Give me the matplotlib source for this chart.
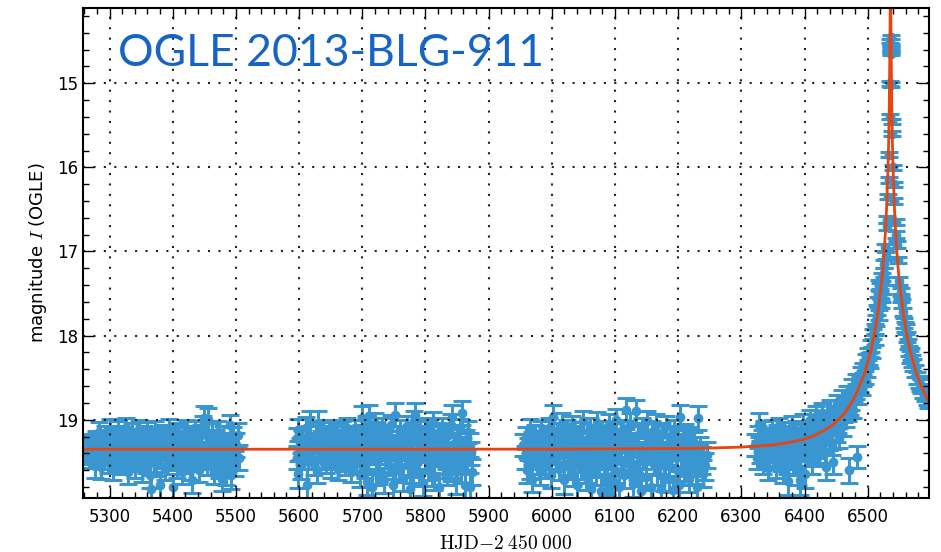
#!/usr/bin/env python3
"""OGLE 2013-BLG-911 light curve with the point-lens model."""

import matplotlib
matplotlib.use("Agg")
import matplotlib.pyplot as plt
from matplotlib.ticker import MultipleLocator

OUT = "out.png"

DATA_BLUE = "#3a96d0"
MODEL_RED = "#e8440f"
TITLE_BLUE = "#1664c4"

# (HJD-2450000, I mag, error), one list per season
season_2010 = [
    (5259, 19.33, .10), (5260, 19.40, .11), (5262, 19.30, .10), (5264, 19.42, .11),
    (5266, 19.36, .11), (5268, 19.45, .12), (5270, 19.28, .11), (5272, 19.38, .12),
    (5274, 19.33, .12), (5277, 19.55, .14), (5279, 19.25, .12), (5281, 19.40, .12),
    (5283, 19.15, .12), (5285, 19.36, .12), (5287, 19.56, .14), (5289, 19.27, .12),
    (5291, 19.45, .13), (5293, 19.20, .12), (5295, 19.34, .12), (5297, 19.50, .13),
    (5299, 19.24, .12), (5300, 19.12, .13), (5302, 19.40, .12), (5304, 19.30, .12),
    (5306, 19.58, .14), (5308, 19.19, .12), (5310, 19.36, .12), (5312, 19.46, .13),
    (5314, 19.14, .12), (5316, 19.28, .12), (5318, 19.52, .13), (5320, 19.33, .12),
    (5322, 19.21, .12), (5324, 19.42, .13), (5326, 19.10, .12), (5328, 19.37, .12),
    (5330, 19.62, .14), (5332, 19.26, .12), (5334, 19.44, .13), (5336, 19.16, .12),
    (5338, 19.31, .12), (5340, 19.55, .14), (5342, 19.23, .12), (5344, 19.39, .12),
    (5346, 19.12, .12), (5348, 19.48, .13), (5350, 19.29, .12), (5352, 19.60, .14),
    (5354, 19.20, .12), (5356, 19.35, .12), (5358, 19.50, .13), (5360, 19.15, .12),
    (5362, 19.41, .13), (5364, 19.66, .15), (5366, 19.82, .16), (5368, 19.27, .12),
    (5370, 19.38, .12), (5372, 19.13, .12), (5374, 19.53, .14), (5376, 19.30, .12),
    (5378, 19.22, .12), (5380, 19.78, .16), (5382, 19.44, .13), (5384, 19.18, .12),
    (5386, 19.34, .12), (5388, 19.58, .14), (5390, 19.25, .12), (5392, 19.40, .12),
    (5394, 19.11, .12), (5396, 19.47, .13), (5398, 19.32, .12), (5400, 19.80, .16),
    (5402, 19.21, .12), (5404, 19.37, .12), (5406, 19.55, .14), (5408, 19.16, .12),
    (5410, 19.43, .13), (5412, 19.28, .12), (5414, 19.62, .14), (5416, 19.19, .12),
    (5418, 19.35, .12), (5420, 19.50, .13), (5422, 19.12, .12), (5424, 19.40, .13),
    (5426, 19.26, .12), (5428, 19.58, .14), (5430, 19.72, .15), (5432, 19.22, .12),
    (5434, 19.36, .12), (5436, 19.14, .12), (5438, 19.46, .13), (5440, 19.30, .12),
    (5442, 19.60, .14), (5444, 19.18, .12), (5446, 19.42, .13), (5448, 19.08, .12),
    (5450, 18.98, .14), (5452, 19.33, .12), (5454, 19.52, .14), (5456, 19.00, .14),
    (5458, 19.27, .12), (5460, 19.45, .13), (5462, 19.16, .12), (5464, 19.38, .12),
    (5466, 19.62, .14), (5468, 19.24, .12), (5470, 19.44, .13), (5472, 19.14, .12),
    (5474, 19.55, .14), (5476, 19.30, .12), (5478, 19.70, .15), (5480, 19.20, .12),
    (5482, 19.40, .13), (5484, 19.62, .15), (5486, 19.28, .12), (5488, 19.48, .14),
    (5490, 19.06, .12), (5492, 19.66, .16), (5494, 19.35, .13), (5496, 19.22, .13),
    (5498, 19.52, .15), (5500, 19.30, .14), (5503, 19.18, .14), (5505, 19.45, .15),
    (5301, 19.28, .13), (5311, 19.48, .13), (5321, 19.25, .13), (5331, 19.40, .13),
    (5341, 19.30, .13), (5351, 19.44, .13), (5361, 19.22, .13), (5371, 19.50, .14),
    (5381, 19.30, .13), (5391, 19.20, .13), (5401, 19.45, .13), (5411, 19.34, .13),
    (5421, 19.26, .13), (5431, 19.48, .13), (5441, 19.20, .13), (5451, 19.40, .13),
    (5461, 19.30, .13), (5471, 19.36, .13), (5481, 19.52, .14), (5491, 19.30, .14),
]

season_2011 = [
    (5596, 19.22, .12), (5597, 19.45, .14), (5598, 19.65, .16), (5599, 19.12, .13),
    (5601, 19.35, .13), (5603, 19.55, .15), (5605, 19.25, .13), (5607, 19.40, .13),
    (5609, 19.30, .12), (5611, 19.10, .13), (5612, 19.77, .18), (5614, 19.45, .13),
    (5616, 19.20, .12), (5618, 19.04, .14), (5620, 19.38, .12), (5622, 19.28, .12),
    (5624, 19.52, .14), (5626, 19.18, .12), (5628, 19.60, .15), (5630, 19.04, .14),
    (5632, 19.35, .12), (5634, 19.25, .12), (5636, 19.45, .13), (5638, 19.15, .12),
    (5640, 19.32, .12), (5642, 19.50, .13), (5644, 19.22, .12), (5646, 19.40, .12),
    (5648, 19.12, .12), (5650, 19.55, .14), (5652, 19.30, .12), (5654, 19.20, .12),
    (5656, 19.45, .13), (5658, 19.35, .12), (5660, 19.16, .12), (5662, 19.58, .14),
    (5664, 19.27, .12), (5666, 19.42, .13), (5668, 19.14, .12), (5670, 19.36, .12),
    (5672, 19.52, .14), (5674, 19.24, .12), (5676, 19.10, .12), (5678, 19.46, .13),
    (5680, 19.32, .12), (5682, 19.60, .14), (5684, 19.20, .12), (5686, 19.38, .12),
    (5688, 19.12, .12), (5690, 19.50, .13), (5692, 19.28, .12), (5694, 19.42, .13),
    (5696, 19.65, .15), (5698, 19.18, .12), (5700, 18.98, .14), (5702, 19.34, .12),
    (5704, 19.55, .14), (5706, 19.08, .12), (5708, 19.74, .16), (5710, 18.96, .14),
    (5712, 19.40, .13), (5714, 19.22, .12), (5716, 19.80, .16), (5718, 19.30, .12),
    (5720, 19.05, .13), (5722, 19.48, .13), (5724, 19.15, .12), (5726, 19.62, .14),
    (5728, 19.26, .12), (5730, 19.40, .12), (5732, 19.10, .12), (5734, 19.72, .15),
    (5736, 19.33, .12), (5738, 19.18, .12), (5740, 19.52, .14), (5742, 19.25, .12),
    (5744, 19.44, .13), (5746, 19.06, .12), (5748, 19.78, .16), (5750, 19.30, .12),
    (5752, 18.94, .14), (5754, 19.46, .13), (5756, 19.20, .12), (5758, 19.60, .14),
    (5760, 19.12, .12), (5762, 19.36, .12), (5764, 19.70, .15), (5766, 19.24, .12),
    (5768, 19.42, .13), (5770, 19.08, .12), (5772, 19.54, .14), (5774, 19.30, .12),
    (5776, 19.82, .16), (5778, 19.18, .12), (5780, 19.40, .13), (5782, 19.02, .13),
    (5784, 18.94, .14), (5786, 19.48, .13), (5788, 19.26, .12), (5790, 19.64, .15),
    (5792, 19.14, .12), (5794, 19.38, .12), (5796, 19.75, .16), (5798, 19.22, .12),
    (5800, 19.45, .13), (5802, 19.10, .12), (5804, 19.58, .14), (5806, 19.32, .12),
    (5808, 19.20, .12), (5810, 19.50, .13), (5812, 19.04, .13), (5814, 19.68, .15),
    (5816, 19.28, .12), (5818, 19.42, .13), (5820, 19.16, .12), (5822, 19.80, .16),
    (5824, 19.34, .12), (5826, 19.10, .12), (5828, 19.55, .14), (5830, 19.24, .12),
    (5832, 19.46, .13), (5834, 19.62, .15), (5836, 19.18, .12), (5838, 19.38, .12),
    (5840, 19.06, .13), (5842, 18.97, .14), (5844, 19.50, .14), (5846, 19.28, .12),
    (5848, 19.72, .16), (5850, 19.20, .12), (5852, 19.42, .13), (5854, 19.12, .13),
    (5856, 19.60, .15), (5858, 18.92, .14), (5860, 19.35, .13), (5862, 19.78, .17),
    (5864, 19.25, .13), (5866, 19.50, .14), (5868, 19.15, .13), (5870, 19.80, .17),
    (5872, 19.40, .14), (5874, 19.62, .15),
    (5641, 19.30, .13), (5651, 19.42, .13), (5661, 19.26, .13), (5671, 19.48, .13),
    (5681, 19.22, .13), (5691, 19.36, .13), (5701, 19.50, .14), (5711, 19.28, .13),
    (5721, 19.62, .15), (5731, 19.34, .13), (5741, 19.20, .13), (5751, 19.56, .14),
    (5761, 19.40, .13), (5771, 19.26, .13), (5781, 19.60, .15), (5791, 19.32, .13),
    (5801, 19.22, .13), (5811, 19.64, .15), (5821, 19.38, .13), (5831, 19.28, .13),
    (5841, 19.58, .15), (5851, 19.34, .13), (5861, 19.48, .14), (5871, 19.30, .14),
]

season_2012 = [
    (5955, 19.30, .13), (5957, 19.45, .14), (5959, 19.22, .13), (5961, 19.60, .15),
    (5963, 19.35, .13), (5965, 19.12, .13), (5966, 19.55, .15), (5968, 19.70, .16),
    (5969, 19.28, .13), (5971, 19.42, .13), (5973, 19.18, .12), (5975, 19.36, .12),
    (5977, 19.50, .14), (5979, 19.25, .12), (5981, 19.62, .15), (5983, 19.14, .12),
    (5985, 19.40, .13), (5987, 19.30, .12), (5989, 19.55, .14), (5991, 19.20, .12),
    (5993, 19.45, .13), (5995, 19.10, .12), (5997, 19.34, .12), (5999, 19.66, .15),
    (6002, 18.97, .14), (6004, 19.28, .12), (6006, 19.48, .13), (6008, 19.16, .12),
    (6010, 19.38, .12), (6012, 19.58, .14), (6014, 19.22, .12), (6016, 19.05, .13),
    (6018, 19.42, .13), (6020, 19.72, .16), (6022, 19.30, .12), (6024, 19.12, .12),
    (6026, 19.52, .14), (6028, 19.26, .12), (6030, 19.44, .13), (6032, 19.08, .12),
    (6034, 19.64, .15), (6036, 19.34, .12), (6038, 19.20, .12), (6040, 19.78, .16),
    (6042, 19.40, .13), (6044, 19.15, .12), (6046, 19.56, .14), (6048, 19.28, .12),
    (6050, 19.02, .13), (6052, 19.46, .13), (6054, 19.68, .15), (6056, 19.24, .12),
    (6058, 19.38, .12), (6060, 19.10, .12), (6062, 19.82, .17), (6064, 19.32, .12),
    (6066, 19.50, .14), (6068, 19.18, .12), (6070, 19.62, .15), (6072, 19.04, .13),
    (6074, 19.42, .13), (6076, 19.28, .12), (6078, 19.85, .17), (6080, 19.14, .12),
    (6082, 19.54, .14), (6084, 19.36, .12), (6086, 19.22, .12), (6088, 19.74, .16),
    (6090, 19.06, .13), (6092, 19.44, .13), (6094, 19.88, .17), (6096, 19.30, .12),
    (6098, 19.16, .12), (6100, 19.60, .15), (6102, 19.00, .13), (6104, 19.40, .13),
    (6106, 19.80, .17), (6108, 19.26, .12), (6110, 19.48, .13), (6112, 19.12, .12),
    (6114, 19.66, .15), (6116, 19.34, .12), (6118, 18.88, .14), (6120, 19.20, .12),
    (6122, 19.52, .14), (6124, 19.05, .13), (6126, 19.42, .13), (6128, 19.76, .16),
    (6130, 19.28, .12), (6133, 18.90, .14), (6135, 19.58, .14), (6137, 19.18, .12),
    (6139, 19.38, .12), (6141, 19.85, .17), (6143, 19.10, .12), (6145, 19.46, .13),
    (6147, 19.30, .12), (6149, 19.68, .15), (6151, 19.02, .13), (6153, 19.40, .13),
    (6155, 19.24, .12), (6157, 19.80, .16), (6159, 19.14, .12), (6161, 19.52, .14),
    (6163, 19.34, .12), (6165, 19.06, .13), (6167, 19.62, .15), (6169, 19.26, .12),
    (6171, 19.44, .13), (6173, 19.82, .17), (6175, 19.16, .12), (6177, 19.38, .12),
    (6179, 19.55, .14), (6181, 19.08, .13), (6183, 19.30, .12), (6185, 19.70, .16),
    (6187, 19.20, .12), (6189, 19.46, .13), (6191, 19.84, .17), (6193, 19.12, .12),
    (6195, 19.36, .12), (6197, 19.58, .15), (6199, 19.24, .13), (6201, 19.78, .17),
    (6203, 18.97, .14), (6205, 19.42, .14), (6207, 19.30, .13), (6209, 19.62, .15),
    (6211, 19.18, .13), (6213, 19.48, .14), (6215, 19.35, .13), (6217, 19.70, .16),
    (6219, 19.22, .13), (6221, 19.52, .15), (6223, 19.40, .14), (6225, 19.28, .14),
    (6228, 19.60, .16), (6230, 19.80, .18), (6231, 18.98, .14), (6233, 19.45, .15),
    (6235, 19.35, .15), (6237, 19.48, .16), (6240, 19.64, .16), (6242, 19.55, .16),
    (6245, 19.42, .15),
    (5976, 19.30, .13), (5986, 19.46, .13), (5996, 19.24, .13), (6007, 19.40, .13),
    (6017, 19.30, .13), (6027, 19.56, .14), (6037, 19.22, .13), (6047, 19.42, .13),
    (6057, 19.60, .15), (6067, 19.32, .13), (6077, 19.20, .13), (6087, 19.50, .14),
    (6097, 19.66, .15), (6107, 19.36, .13), (6117, 19.24, .13), (6127, 19.54, .14),
    (6138, 19.64, .15), (6148, 19.40, .13), (6158, 19.28, .13), (6168, 19.50, .14),
    (6178, 19.70, .15), (6188, 19.34, .13), (6198, 19.42, .14), (6208, 19.26, .14),
]

season_2013 = [
    (6322, 19.30, .13), (6324, 19.45, .14), (6326, 19.20, .13), (6328, 19.06, .14),
    (6330, 19.38, .13), (6332, 19.25, .13), (6334, 19.50, .14), (6336, 19.15, .13),
    (6338, 19.32, .13), (6340, 19.42, .13), (6342, 19.57, .15), (6344, 19.22, .12),
    (6346, 19.36, .13), (6348, 19.12, .12), (6350, 19.46, .13), (6352, 19.28, .12),
    (6354, 19.55, .14), (6356, 19.18, .12), (6358, 19.38, .12), (6360, 19.10, .12),
    (6362, 19.48, .13), (6364, 19.25, .12), (6366, 19.60, .15), (6368, 19.15, .12),
    (6370, 19.35, .12), (6372, 19.50, .14), (6374, 19.73, .16), (6376, 19.20, .12),
    (6378, 19.40, .13), (6380, 19.08, .12), (6382, 19.52, .14), (6384, 19.28, .12),
    (6386, 19.14, .12), (6388, 19.45, .13), (6390, 19.62, .15), (6392, 19.72, .17),
    (6394, 19.22, .12), (6396, 19.36, .12), (6398, 19.05, .12), (6400, 19.65, .16),
    (6402, 19.30, .12), (6404, 19.16, .12), (6406, 19.42, .13), (6408, 19.00, .12),
    (6410, 19.26, .12), (6412, 19.50, .14), (6414, 19.12, .12), (6416, 19.34, .12),
    (6418, 18.96, .12), (6420, 19.22, .12), (6422, 19.42, .13), (6424, 19.08, .12),
    (6426, 19.30, .12), (6428, 18.92, .12), (6430, 19.18, .12), (6432, 19.38, .13),
    (6434, 19.56, .15), (6436, 19.05, .12), (6438, 19.24, .12), (6440, 18.88, .12),
    (6442, 19.12, .12), (6444, 19.30, .12), (6445, 19.50, .15), (6447, 18.95, .11),
    (6449, 19.15, .12), (6451, 18.82, .11), (6453, 19.05, .11), (6455, 19.22, .12),
    (6457, 18.90, .11), (6459, 18.76, .11), (6461, 19.08, .11), (6463, 18.85, .10),
    (6465, 18.98, .11), (6467, 18.70, .10), (6469, 18.92, .10), (6471, 19.60, .15),
    (6473, 18.78, .10), (6475, 18.62, .10), (6477, 18.88, .10), (6479, 18.70, .09),
    (6481, 18.55, .09), (6483, 19.44, .13), (6485, 18.72, .09), (6487, 18.58, .09),
    (6489, 18.45, .08), (6491, 18.62, .08), (6493, 18.40, .08), (6495, 18.50, .08),
    (6497, 18.30, .08), (6499, 18.42, .07), (6501, 18.22, .07), (6503, 18.32, .07),
    (6505, 18.12, .07), (6507, 18.20, .07), (6509, 17.98, .06), (6511, 18.05, .06),
    (6513, 17.82, .06), (6514, 17.70, .06), (6516, 17.60, .06), (6517, 17.75, .06),
    (6518, 17.40, .06), (6519, 17.50, .05), (6520, 17.42, .05), (6521, 17.62, .05),
    (6522, 17.30, .05), (6523, 17.55, .05), (6524, 17.45, .05), (6525, 17.15, .05),
    (6526, 17.25, .05), (6527, 17.35, .05), (6528, 16.95, .04), (6529, 17.05, .04),
    (6530, 16.70, .04), (6531, 16.62, .04), (6532, 16.35, .03), (6533, 16.15, .03),
    (6534, 15.85, .03), (6535, 15.40, .03), (6535.5, 15.00, .03), (6535.8, 14.50, .02),
    (6536, 14.62, .02), (6536.2, 14.58, .02), (6536.4, 14.45, .02), (6536.6, 14.55, .02),
    (6537, 14.65, .02), (6537.5, 15.02, .03), (6538, 15.45, .03), (6539, 15.60, .03),
    (6540, 16.00, .03), (6541, 16.20, .03), (6542, 16.40, .03), (6544, 16.65, .04),
    (6546, 16.92, .04), (6548, 17.10, .04), (6550, 17.35, .05), (6552, 17.48, .05),
    (6554, 17.62, .05), (6556, 17.72, .05), (6558, 17.85, .06), (6560, 17.92, .06),
    (6562, 18.02, .06), (6564, 18.10, .06), (6566, 18.18, .06), (6568, 18.22, .07),
    (6570, 18.30, .07), (6572, 18.35, .07), (6575, 18.42, .07), (6578, 18.50, .07),
    (6581, 18.55, .07), (6584, 18.60, .08), (6587, 18.66, .08), (6590, 18.70, .08),
    (6593, 18.74, .08), (6596, 18.78, .08),
    (6331, 19.30, .13), (6341, 19.24, .13), (6351, 19.36, .13), (6361, 19.30, .13),
    (6371, 19.22, .13), (6381, 19.40, .13), (6391, 19.28, .13), (6401, 19.18, .13),
    (6411, 19.36, .13), (6421, 19.10, .12), (6431, 19.28, .12), (6441, 19.02, .12),
    (6452, 19.14, .12), (6462, 18.92, .11), (6472, 18.84, .10), (6482, 18.66, .09),
    (6492, 18.52, .08), (6502, 18.28, .07), (6512, 17.92, .06), (6545, 16.80, .04),
    (6553, 17.55, .05), (6559, 17.90, .06), (6567, 18.25, .07), (6583, 18.58, .08),
]

seasons = [season_2010, season_2011, season_2012, season_2013]

# model curve
model_t = [5258, 5600, 6000, 6200, 6250, 6300, 6350, 6375, 6400, 6415, 6430,
           6445, 6460, 6470, 6480, 6495, 6505, 6510, 6515, 6522, 6524.5, 6527,
           6528.5, 6530, 6532, 6533, 6534, 6535, 6536, 6537, 6538, 6539, 6540,
           6542, 6543.5, 6545, 6547.5, 6550, 6557, 6562, 6567, 6577, 6585,
           6592, 6597]
model_mag = [19.35, 19.35, 19.349, 19.342, 19.336, 19.325, 19.30, 19.27, 19.23,
             19.19, 19.13, 19.06, 18.95, 18.85, 18.72, 18.45, 18.18, 18.00,
             17.78, 17.36, 17.15, 16.88, 16.69, 16.45, 16.01, 15.71, 15.28,
             14.59, 13.60, 14.59, 15.28, 15.71, 16.01, 16.45, 16.69, 16.88,
             17.15, 17.36, 17.78, 18.00, 18.18, 18.45, 18.61, 18.72, 18.79]


def main() -> None:
    plt.rcParams["mathtext.fontset"] = "cm"
    fig = plt.figure(figsize=(9.41, 5.52), dpi=100)
    ax = fig.add_axes([0.0882, 0.0978, 0.8991, 0.8886])

    for season in seasons:
        t, mag, err = zip(*season)
        ax.errorbar(t, mag, yerr=err, fmt="o", color=DATA_BLUE, ms=6,
                    mec=DATA_BLUE, elinewidth=2.2, capsize=6.5, capthick=2.2,
                    zorder=2)

    ax.plot(model_t, model_mag, color=MODEL_RED, lw=2, zorder=3)

    ax.set_xlim(5258, 6597)
    ax.set_ylim(19.93, 14.1)

    ax.xaxis.set_major_locator(MultipleLocator(100))
    ax.xaxis.set_minor_locator(MultipleLocator(20))
    ax.yaxis.set_major_locator(MultipleLocator(1))
    ax.yaxis.set_minor_locator(MultipleLocator(0.2))
    ax.tick_params(which="both", direction="in", top=True, right=True)
    ax.tick_params(which="major", length=8, width=1, labelsize=12)
    ax.tick_params(which="minor", length=4, width=1)
    ax.tick_params(axis="x", which="major", pad=7)
    ax.grid(True, which="major", color="#222222", linestyle=(0, (1, 4)),
            linewidth=1.5)
    ax.set_axisbelow(False)
    for sp in ax.spines.values():
        sp.set_linewidth(1.5)
        sp.set_zorder(5)

    ax.set_xlabel(r"$\mathrm{HJD}{-}2\;450\;000$", fontsize=14, labelpad=6)
    ax.set_ylabel(r"magnitude $I$ (OGLE)", fontsize=13, labelpad=6)

    ax.text(0.041, 0.906, "OGLE 2013-BLG-911", transform=ax.transAxes,
            ha="left", va="center", fontsize=32, color=TITLE_BLUE,
            family="Lato", zorder=6)

    fig.savefig(OUT, dpi=100)
    plt.close(fig)


if __name__ == "__main__":
    main()
